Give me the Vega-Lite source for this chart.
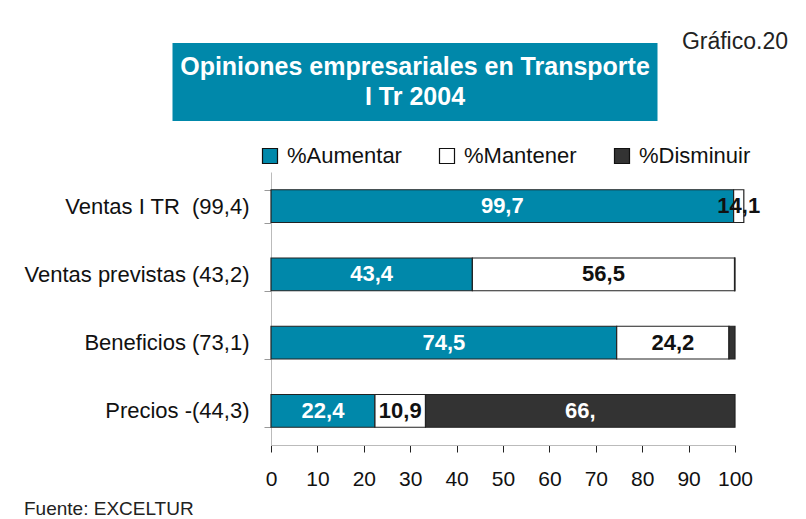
{
  "$schema": "https://vega.github.io/schema/vega-lite/v6.json",
  "padding": {"left": 23, "top": 31, "right": 5, "bottom": 5},
  "background": "white",
  "config": {
    "view": {"stroke": null},
    "font": "Liberation Sans"
  },
  "title": {
    "text": "Fuente: EXCELTUR",
    "orient": "bottom",
    "anchor": "start",
    "frame": "bounds",
    "fontSize": 19,
    "fontWeight": "normal",
    "color": "#222222",
    "offset": 11
  },
  "vconcat": [
    {
      "width": 288,
      "height": 78,
      "data": {"values": [{"titulo": ["Opiniones empresariales en Transporte", "I Tr 2004"]}]},
      "title": {
        "text": "Gráfico.20",
        "orient": "top",
        "anchor": "end",
        "align": "right",
        "baseline": "top",
        "frame": "group",
        "offset": -22,
        "dx": 229,
        "dy": -11,
        "fontSize": 23,
        "fontWeight": "normal",
        "color": "#222222"
      },
      "layer": [
        {
          "mark": {"type": "point", "shape": "M-1,-0.16082H1V0.16082H-1Z", "size": 235225, "filled": true, "fill": "#0088AA", "opacity": 1, "strokeWidth": 0},
          "encoding": {}
        },
        {
          "mark": {"type": "text", "color": "white", "fontWeight": "bold", "fontSize": 25, "lineHeight": 30, "baseline": "middle", "align": "center", "dy": -15},
          "encoding": {"text": {"field": "titulo"}}
        }
      ]
    },
    {
      "width": 464,
      "height": 273,
      "data": {"values": [
        {"cat": "Ventas I TR\u00a0 (99,4)", "serie": "%Aumentar", "orden": 1, "v": 99.7, "etiqueta": "99,7"},
        {"cat": "Ventas I TR\u00a0 (99,4)", "serie": "%Mantener", "orden": 2, "v": 2.2, "etiqueta": "14,1"},
        {"cat": "Ventas previstas (43,2)", "serie": "%Aumentar", "orden": 1, "v": 43.4, "etiqueta": "43,4"},
        {"cat": "Ventas previstas (43,2)", "serie": "%Mantener", "orden": 2, "v": 56.5, "etiqueta": "56,5"},
        {"cat": "Ventas previstas (43,2)", "serie": "%Disminuir", "orden": 3, "v": 0.1, "etiqueta": ""},
        {"cat": "Beneficios (73,1)", "serie": "%Aumentar", "orden": 1, "v": 74.5, "etiqueta": "74,5"},
        {"cat": "Beneficios (73,1)", "serie": "%Mantener", "orden": 2, "v": 24.2, "etiqueta": "24,2"},
        {"cat": "Beneficios (73,1)", "serie": "%Disminuir", "orden": 3, "v": 1.3, "etiqueta": ""},
        {"cat": "Precios -(44,3)", "serie": "%Aumentar", "orden": 1, "v": 22.4, "etiqueta": "22,4"},
        {"cat": "Precios -(44,3)", "serie": "%Mantener", "orden": 2, "v": 10.9, "etiqueta": "10,9"},
        {"cat": "Precios -(44,3)", "serie": "%Disminuir", "orden": 3, "v": 66.7, "etiqueta": "66,"}
      ]},
      "transform": [
        {"stack": "v", "groupby": ["cat"], "sort": [{"field": "orden"}], "as": ["v0", "v1"]},
        {"calculate": "(datum.v0 + datum.v1) / 2", "as": "mid"}
      ],
      "encoding": {
        "y": {
          "field": "cat",
          "type": "nominal",
          "sort": ["Ventas I TR\u00a0 (99,4)", "Ventas previstas (43,2)", "Beneficios (73,1)", "Precios -(44,3)"],
          "scale": {"paddingInner": 0.52, "paddingOuter": 0.26},
          "axis": {
            "title": null,
            "tickBand": "extent",
            "tickSize": 7,
            "tickColor": "#999999",
            "domainColor": "#bbbbbb",
            "labelFontSize": 22,
            "labelColor": "#111111",
            "labelPadding": 15,
            "labelLimit": 400
          }
        }
      },
      "layer": [
        {
          "mark": {"type": "bar", "stroke": "#222222", "strokeWidth": 1.2, "clip": false},
          "encoding": {
            "x": {
              "field": "v0",
              "type": "quantitative",
              "scale": {"domain": [0, 100], "nice": false, "zero": true},
              "axis": {
                "title": null,
                "values": [0, 10, 20, 30, 40, 50, 60, 70, 80, 90, 100],
                "grid": false,
                "tickSize": 7,
                "tickColor": "#222222",
                "domainColor": "#bbbbbb",
                "labelFontSize": 21,
                "labelColor": "#111111",
                "labelPadding": 16,
                "labelFlush": false
              }
            },
            "x2": {"field": "v1"},
            "color": {
              "field": "serie",
              "type": "nominal",
              "scale": {"domain": ["%Aumentar", "%Mantener", "%Disminuir"], "range": ["#0088AA", "#FFFFFF", "#333333"]},
              "legend": {
                "title": null,
                "orient": "none",
                "direction": "horizontal",
                "legendX": -12,
                "legendY": 102,
                "symbolType": "square",
                "symbolSize": 225,
                "symbolStrokeColor": "#111111",
                "symbolStrokeWidth": 1.2,
                "symbolOpacity": 1,
                "labelFontSize": 22,
                "labelColor": "#111111",
                "labelOffset": 6,
                "columnPadding": 34
              }
            }
          }
        },
        {
          "mark": {"type": "text", "fontWeight": "bold", "fontSize": 22, "baseline": "middle", "align": "center"},
          "encoding": {
            "x": {"field": "mid", "type": "quantitative"},
            "text": {"field": "etiqueta"},
            "color": {
              "condition": {"test": "datum.serie === '%Mantener'", "value": "#111111"},
              "value": "white"
            }
          }
        }
      ]
    }
  ],
  "spacing": 40
}
